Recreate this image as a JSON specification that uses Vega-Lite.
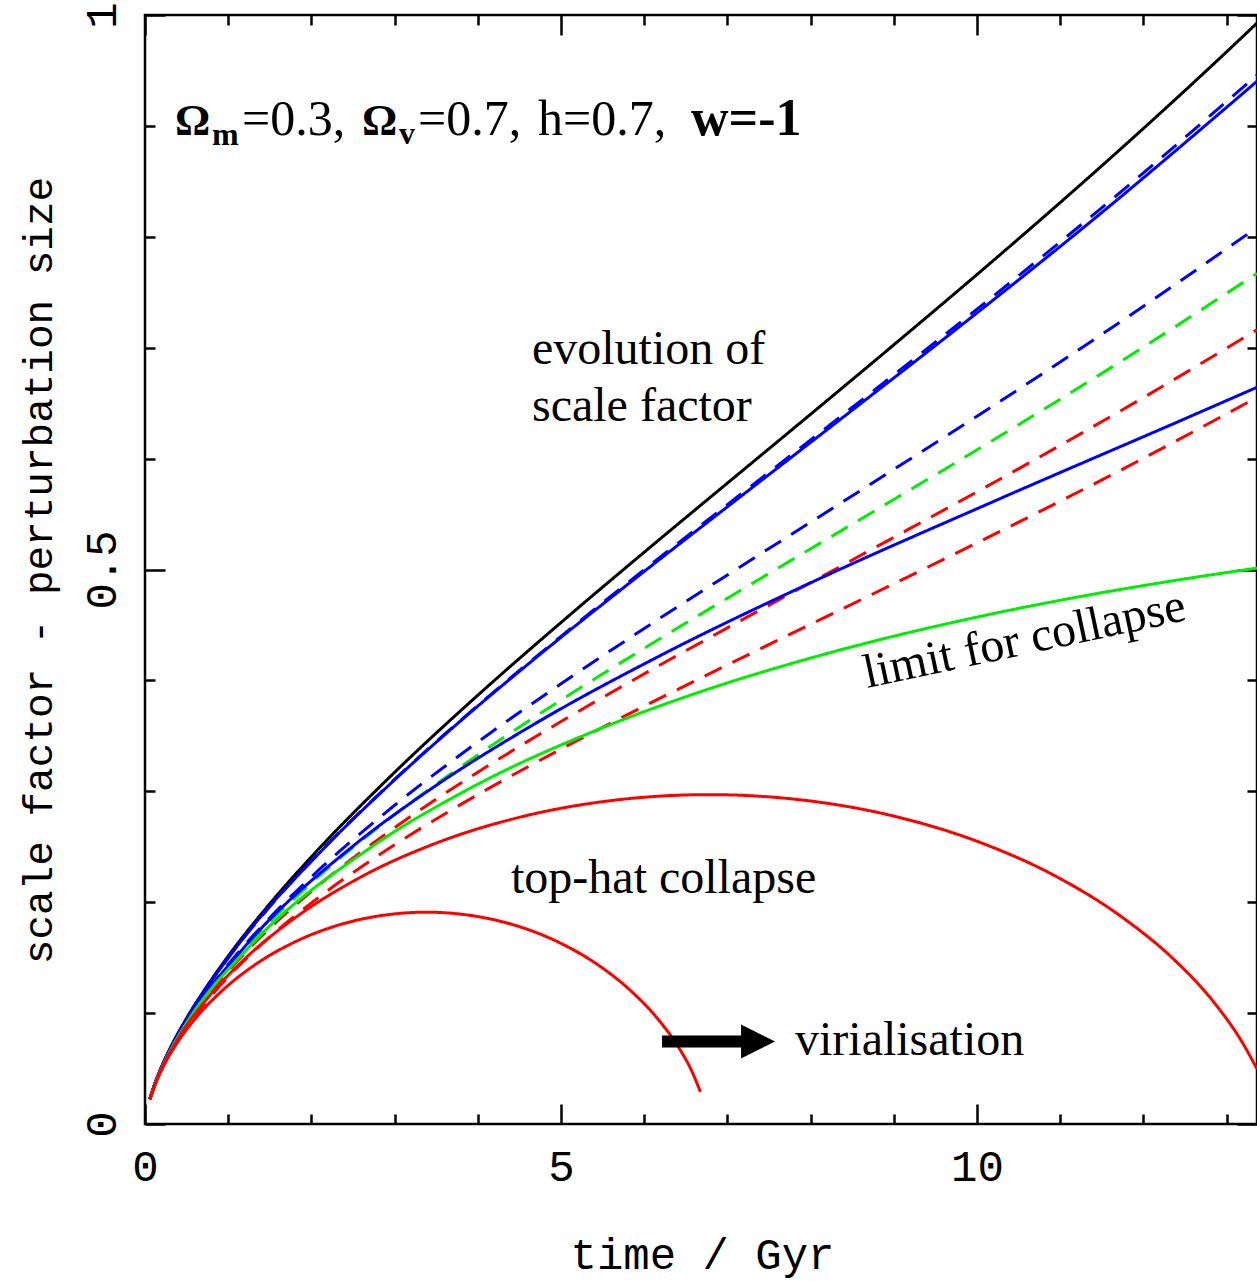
{
  "$schema": "https://vega.github.io/schema/vega-lite/v6.json",
  "width": 1112,
  "height": 1109,
  "autosize": "none",
  "padding": {"left": 145, "top": 15, "right": 0, "bottom": 157},
  "background": "white",
  "config": {
    "view": {"stroke": "black", "strokeWidth": 2.5},
    "axis": {"grid": false, "domain": false, "tickColor": "black", "tickWidth": 2.5, "labelColor": "black", "titleColor": "black", "labelFont": "Liberation Mono", "titleFont": "Liberation Mono", "labelFontSize": 44, "titleFontSize": 44, "titleFontWeight": "normal"}
  },
  "resolve": {"axis": {"x": "independent", "y": "independent"}},
  "datasets": {
    "curves": [
      {"s":"scale factor","t":0.0574,"r":0.0225},{"s":"scale factor","t":0.125,"r":0.03781},{"s":"scale factor","t":0.25,"r":0.06003},{"s":"scale factor","t":0.5,"r":0.09532},{"s":"scale factor","t":0.75,"r":0.12482},{"s":"scale factor","t":1,"r":0.1514},{"s":"scale factor","t":1.5,"r":0.1986},{"s":"scale factor","t":2,"r":0.2409},{"s":"scale factor","t":3,"r":0.3171},{"s":"scale factor","t":4,"r":0.3866},{"s":"scale factor","t":5,"r":0.4522},{"s":"scale factor","t":6,"r":0.5156},{"s":"scale factor","t":7,"r":0.5779},{"s":"scale factor","t":8,"r":0.64},{"s":"scale factor","t":9,"r":0.7026},{"s":"scale factor","t":10,"r":0.766},{"s":"scale factor","t":11,"r":0.8309},{"s":"scale factor","t":12,"r":0.8977},{"s":"scale factor","t":13,"r":0.9668},{"s":"scale factor","t":13.365,"r":0.9927},

      {"s":"l1","t":0.0574,"r":0.02247},{"s":"l1","t":0.125,"r":0.03772},{"s":"l1","t":0.25,"r":0.05979},{"s":"l1","t":0.5,"r":0.09472},{"s":"l1","t":0.75,"r":0.1238},{"s":"l1","t":1,"r":0.1499},{"s":"l1","t":1.5,"r":0.19605},{"s":"l1","t":2,"r":0.23717},{"s":"l1","t":3,"r":0.31075},{"s":"l1","t":4,"r":0.37733},{"s":"l1","t":5,"r":0.43976},{"s":"l1","t":6,"r":0.49979},{"s":"l1","t":7,"r":0.55852},{"s":"l1","t":8,"r":0.61685},{"s":"l1","t":9,"r":0.6755},{"s":"l1","t":10,"r":0.73478},{"s":"l1","t":11,"r":0.79534},{"s":"l1","t":12,"r":0.85762},{"s":"l1","t":13,"r":0.92201},{"s":"l1","t":13.365,"r":0.9458},

      {"s":"l2","t":0.0574,"r":0.02232},{"s":"l2","t":0.125,"r":0.0373},{"s":"l2","t":0.25,"r":0.05877},{"s":"l2","t":0.5,"r":0.09221},{"s":"l2","t":0.75,"r":0.1196},{"s":"l2","t":1,"r":0.14386},{"s":"l2","t":1.5,"r":0.18602},{"s":"l2","t":2,"r":0.22289},{"s":"l2","t":3,"r":0.28741},{"s":"l2","t":4,"r":0.34443},{"s":"l2","t":5,"r":0.39698},{"s":"l2","t":6,"r":0.44681},{"s":"l2","t":7,"r":0.49509},{"s":"l2","t":8,"r":0.54267},{"s":"l2","t":9,"r":0.59026},{"s":"l2","t":10,"r":0.6382},{"s":"l2","t":11,"r":0.6871},{"s":"l2","t":12,"r":0.73732},{"s":"l2","t":13,"r":0.78925},{"s":"l2","t":13.365,"r":0.80843},

      {"s":"l3","t":0.0574,"r":0.02225},{"s":"l3","t":0.125,"r":0.03712},{"s":"l3","t":0.25,"r":0.05833},{"s":"l3","t":0.5,"r":0.09116},{"s":"l3","t":0.75,"r":0.11787},{"s":"l3","t":1,"r":0.14141},{"s":"l3","t":1.5,"r":0.18208},{"s":"l3","t":2,"r":0.21742},{"s":"l3","t":3,"r":0.27884},{"s":"l3","t":4,"r":0.33276},{"s":"l3","t":5,"r":0.38221},{"s":"l3","t":6,"r":0.42897},{"s":"l3","t":7,"r":0.47417},{"s":"l3","t":8,"r":0.51866},{"s":"l3","t":9,"r":0.56314},{"s":"l3","t":10,"r":0.60792},{"s":"l3","t":11,"r":0.65359},{"s":"l3","t":12,"r":0.70053},{"s":"l3","t":13,"r":0.74908},{"s":"l3","t":13.365,"r":0.767},

      {"s":"l4","t":0.0574,"r":0.02215},{"s":"l4","t":0.125,"r":0.03684},{"s":"l4","t":0.25,"r":0.05766},{"s":"l4","t":0.5,"r":0.08959},{"s":"l4","t":0.75,"r":0.11534},{"s":"l4","t":1,"r":0.13787},{"s":"l4","t":1.5,"r":0.17651},{"s":"l4","t":2,"r":0.20982},{"s":"l4","t":3,"r":0.26722},{"s":"l4","t":4,"r":0.31723},{"s":"l4","t":5,"r":0.36288},{"s":"l4","t":6,"r":0.4059},{"s":"l4","t":7,"r":0.4474},{"s":"l4","t":8,"r":0.48822},{"s":"l4","t":9,"r":0.529},{"s":"l4","t":10,"r":0.57006},{"s":"l4","t":11,"r":0.61195},{"s":"l4","t":12,"r":0.65502},{"s":"l4","t":13,"r":0.69959},{"s":"l4","t":13.365,"r":0.7161},

      {"s":"l5","t":0.0574,"r":0.02199},{"s":"l5","t":0.125,"r":0.0364},{"s":"l5","t":0.25,"r":0.05662},{"s":"l5","t":0.5,"r":0.08724},{"s":"l5","t":0.75,"r":0.11163},{"s":"l5","t":1,"r":0.13278},{"s":"l5","t":1.5,"r":0.16868},{"s":"l5","t":2,"r":0.19935},{"s":"l5","t":3,"r":0.25172},{"s":"l5","t":4,"r":0.29698},{"s":"l5","t":5,"r":0.3381},{"s":"l5","t":6,"r":0.37675},{"s":"l5","t":7,"r":0.41399},{"s":"l5","t":8,"r":0.4506},{"s":"l5","t":9,"r":0.48717},{"s":"l5","t":10,"r":0.52401},{"s":"l5","t":11,"r":0.56161},{"s":"l5","t":12,"r":0.6003},{"s":"l5","t":13,"r":0.64038},{"s":"l5","t":13.365,"r":0.6552},

      {"s":"n1","t":0.0574,"r":0.0225},{"s":"n1","t":0.1366,"r":0.04},{"s":"n1","t":0.2674,"r":0.0625},{"s":"n1","t":0.4631,"r":0.09},{"s":"n1","t":1.1043,"r":0.16},{"s":"n1","t":2.169,"r":0.25},{"s":"n1","t":2.8881,"r":0.3025},{"s":"n1","t":3.7397,"r":0.36},{"s":"n1","t":4.7318,"r":0.4225},{"s":"n1","t":5.8599,"r":0.49},{"s":"n1","t":7.1021,"r":0.5625},{"s":"n1","t":8.4372,"r":0.64},{"s":"n1","t":9.8492,"r":0.7225},{"s":"n1","t":11.307,"r":0.81},{"s":"n1","t":13.365,"r":0.9402},

      {"s":"n2","t":0.0574,"r":0.0225},{"s":"n2","t":0.1393,"r":0.04},{"s":"n2","t":0.2747,"r":0.0625},{"s":"n2","t":0.4818,"r":0.09},{"s":"n2","t":1.2001,"r":0.16},{"s":"n2","t":2.4904,"r":0.25},{"s":"n2","t":3.4443,"r":0.3025},{"s":"n2","t":4.6657,"r":0.36},{"s":"n2","t":6.1961,"r":0.4225},{"s":"n2","t":8.0576,"r":0.49},{"s":"n2","t":10.2344,"r":0.5625},{"s":"n2","t":12.6236,"r":0.64},{"s":"n2","t":13.365,"r":0.6643},

      {"s":"n3","t":0.0574,"r":0.0225},{"s":"n3","t":0.1406,"r":0.04},{"s":"n3","t":0.2782,"r":0.0625},{"s":"n3","t":0.4904,"r":0.09},{"s":"n3","t":1.2559,"r":0.16},{"s":"n3","t":2.7249,"r":0.25},{"s":"n3","t":3.9009,"r":0.3025},{"s":"n3","t":5.5893,"r":0.36},{"s":"n3","t":6.7094,"r":0.3906},{"s":"n3","t":8.1121,"r":0.4225},{"s":"n3","t":9.9081,"r":0.4556},{"s":"n3","t":11.2774,"r":0.4761},{"s":"n3","t":12.3692,"r":0.49},{"s":"n3","t":13.365,"r":0.5013},

      {"s":"n4","t":0.0588,"r":0.0225},{"s":"n4","t":0.1623,"r":0.0435},{"s":"n4","t":0.376,"r":0.07425},{"s":"n4","t":0.7148,"r":0.1101},{"s":"n4","t":1.1939,"r":0.1485},{"s":"n4","t":1.8224,"r":0.1869},{"s":"n4","t":2.5969,"r":0.2228},{"s":"n4","t":3.5071,"r":0.2535},{"s":"n4","t":4.5291,"r":0.2771},{"s":"n4","t":5.6331,"r":0.2919},{"s":"n4","t":6.7793,"r":0.297},{"s":"n4","t":7.9254,"r":0.2919},{"s":"n4","t":9.0294,"r":0.2771},{"s":"n4","t":10.0515,"r":0.2535},{"s":"n4","t":10.9617,"r":0.2228},{"s":"n4","t":11.7361,"r":0.1869},{"s":"n4","t":12.3647,"r":0.1485},{"s":"n4","t":12.8437,"r":0.1101},{"s":"n4","t":13.1825,"r":0.0743},{"s":"n4","t":13.365,"r":0.0497},

      {"s":"n5","t":0.0595,"r":0.0225},{"s":"n5","t":0.0835,"r":0.028},{"s":"n5","t":0.1931,"r":0.04775},{"s":"n5","t":0.3662,"r":0.0708},{"s":"n5","t":0.6097,"r":0.0955},{"s":"n5","t":0.9272,"r":0.1202},{"s":"n5","t":1.3157,"r":0.14325},{"s":"n5","t":1.7692,"r":0.163},{"s":"n5","t":2.2752,"r":0.1782},{"s":"n5","t":2.8191,"r":0.1877},{"s":"n5","t":3.3824,"r":0.191},{"s":"n5","t":3.9457,"r":0.1877},{"s":"n5","t":4.4896,"r":0.1782},{"s":"n5","t":4.9957,"r":0.163},{"s":"n5","t":5.4491,"r":0.14325},{"s":"n5","t":5.8376,"r":0.1202},{"s":"n5","t":6.1551,"r":0.0955},{"s":"n5","t":6.3986,"r":0.0708},{"s":"n5","t":6.5717,"r":0.04775},{"s":"n5","t":6.675,"r":0.029}
    ],
    "notes": [
      {"text":"evolution of","t":4.651,"r":0.6853},
      {"text":"scale factor","t":4.651,"r":0.6339},
      {"text":"top-hat collapse","t":4.399,"r":0.2083},
      {"text":"virialisation","t":7.812,"r":0.0622}
    ],
    "slanted": [{"text":"limit for collapse","t":8.678,"r":0.3931}],
    "headRegular": [
      {"text":"=0.3,","t":1.1659,"r":0.8918},
      {"text":"=0.7,","t":3.2812,"r":0.8918},
      {"text":"h=0.7,","t":4.7236,"r":0.8918}
    ],
    "headBold": [
      {"text":"Ω","t":0.3606,"r":0.8918},
      {"text":"Ω","t":2.6082,"r":0.8918}
    ],
    "headBoldBig": [
      {"text":"w=-1","t":6.563,"r":0.8918}
    ],
    "headSub": [
      {"text":"m","t":0.8053,"r":0.8828},
      {"text":"v","t":3.0529,"r":0.8837}
    ],
    "arrow": [{"t":6.214,"t2":7.22,"r":0.0744}],
    "arrowHead": [{"t":7.368,"r":0.0744}]
  },
  "layer": [
    {
      "data": {"name": "curves"},
      "mark": {"type": "line", "interpolate": "monotone", "clip": true, "strokeWidth": 3},
      "encoding": {
        "x": {"field": "t", "type": "quantitative", "scale": {"domain": [0, 13.365], "nice": false, "zero": false},
          "axis": {"orient": "bottom", "values": [0, 5, 10], "ticks": false, "tickSize": 0, "labelPadding": 56, "labelBaseline": "alphabetic", "labelAlign": "center", "labelFlush": false, "labelOverlap": false,
            "title": "time / Gyr", "titleX": 557, "titleY": 144, "titleBaseline": "alphabetic", "titleAlign": "center", "titleAngle": 0}},
        "y": {"field": "r", "type": "quantitative", "scale": {"domain": [0, 1], "nice": false, "zero": false},
          "axis": {"orient": "left", "values": [0, 0.5, 1], "labelExpr": "datum.value == 0 ? '0' : (datum.value == 1 ? '1' : '0.5')", "ticks": false, "tickSize": 0, "labelAngle": 270, "labelAlign": "center", "labelBaseline": "alphabetic", "labelPadding": 30, "labelFlush": false, "labelOverlap": false,
            "title": "scale factor - perturbation size", "titleFontSize": 41, "titleX": -94, "titleY": 555, "titleAngle": 270, "titleBaseline": "alphabetic", "titleAlign": "center"}},
        "color": {"field": "s", "type": "nominal", "legend": null,
          "scale": {"domain": ["scale factor","l1","l2","l3","l4","l5","n1","n2","n3","n4","n5"],
                    "range": ["#000000","#0000ff","#0000ff","#00ee00","#ff0000","#ff0000","#0000ff","#0000ff","#00ee00","#ff0000","#ff0000"]}},
        "strokeDash": {"field": "s", "type": "nominal", "legend": null,
          "scale": {"domain": ["scale factor","l1","l2","l3","l4","l5","n1","n2","n3","n4","n5"],
                    "range": [[1,0],[19,12],[19,12],[19,12],[19,12],[19,12],[1,0],[1,0],[1,0],[1,0],[1,0]]}}
      }
    },
    {
      "data": {"name": "arrow"},
      "mark": {"type": "rule", "strokeWidth": 12, "color": "black", "strokeCap": "butt"},
      "encoding": {
        "x": {"field": "t", "type": "quantitative",
          "axis": {"orient": "bottom", "values": [0,1,2,3,4,5,6,7,8,9,10,11,12,13], "labels": false, "title": null, "domain": false,
            "tickSize": {"condition": {"test": "datum.value % 5 === 0", "value": -20}, "value": -10}}},
        "x2": {"field": "t2"},
        "y": {"field": "r", "type": "quantitative",
          "axis": {"orient": "left", "values": [0,0.1,0.2,0.3,0.4,0.5,0.6,0.7,0.8,0.9,1], "labels": false, "title": null, "domain": false,
            "tickSize": {"condition": {"test": "abs(datum.value*2 - round(datum.value*2)) < 0.001", "value": -20}, "value": -10}}}
      }
    },
    {
      "data": {"name": "arrowHead"},
      "mark": {"type": "point", "shape": "M-1,-1L1,0L-1,1Z", "size": 1156, "filled": true, "color": "black", "opacity": 1, "strokeWidth": 0},
      "encoding": {
        "x": {"field": "t", "type": "quantitative",
          "axis": {"orient": "top", "values": [0,1,2,3,4,5,6,7,8,9,10,11,12,13], "labels": false, "title": null, "domain": false,
            "tickSize": {"condition": {"test": "datum.value % 5 === 0", "value": -20}, "value": -10}}},
        "y": {"field": "r", "type": "quantitative",
          "axis": {"orient": "right", "values": [0,0.1,0.2,0.3,0.4,0.5,0.6,0.7,0.8,0.9,1], "labels": false, "title": null, "domain": false,
            "tickSize": {"condition": {"test": "abs(datum.value*2 - round(datum.value*2)) < 0.001", "value": -20}, "value": -10}}}
      }
    },
    {
      "data": {"name": "notes"},
      "mark": {"type": "text", "align": "left", "baseline": "alphabetic", "font": "Liberation Serif", "fontSize": 48, "color": "black"},
      "encoding": {
        "x": {"field": "t", "type": "quantitative", "axis": null},
        "y": {"field": "r", "type": "quantitative", "axis": null},
        "text": {"field": "text"}
      }
    },
    {
      "data": {"name": "slanted"},
      "mark": {"type": "text", "align": "left", "baseline": "alphabetic", "font": "Liberation Serif", "fontSize": 48, "color": "black", "angle": -12},
      "encoding": {
        "x": {"field": "t", "type": "quantitative", "axis": null},
        "y": {"field": "r", "type": "quantitative", "axis": null},
        "text": {"field": "text"}
      }
    },
    {
      "data": {"name": "headRegular"},
      "mark": {"type": "text", "align": "left", "baseline": "alphabetic", "font": "Liberation Serif", "fontSize": 50, "color": "black"},
      "encoding": {
        "x": {"field": "t", "type": "quantitative", "axis": null},
        "y": {"field": "r", "type": "quantitative", "axis": null},
        "text": {"field": "text"}
      }
    },
    {
      "data": {"name": "headBold"},
      "mark": {"type": "text", "align": "left", "baseline": "alphabetic", "font": "Liberation Serif", "fontSize": 44, "fontWeight": "bold", "color": "black"},
      "encoding": {
        "x": {"field": "t", "type": "quantitative", "axis": null},
        "y": {"field": "r", "type": "quantitative", "axis": null},
        "text": {"field": "text"}
      }
    },
    {
      "data": {"name": "headBoldBig"},
      "mark": {"type": "text", "align": "left", "baseline": "alphabetic", "font": "Liberation Serif", "fontSize": 52, "fontWeight": "bold", "color": "black"},
      "encoding": {
        "x": {"field": "t", "type": "quantitative", "axis": null},
        "y": {"field": "r", "type": "quantitative", "axis": null},
        "text": {"field": "text"}
      }
    },
    {
      "data": {"name": "headSub"},
      "mark": {"type": "text", "align": "left", "baseline": "alphabetic", "font": "Liberation Serif", "fontSize": 32, "fontWeight": "bold", "color": "black"},
      "encoding": {
        "x": {"field": "t", "type": "quantitative", "axis": null},
        "y": {"field": "r", "type": "quantitative", "axis": null},
        "text": {"field": "text"}
      }
    }
  ]
}
